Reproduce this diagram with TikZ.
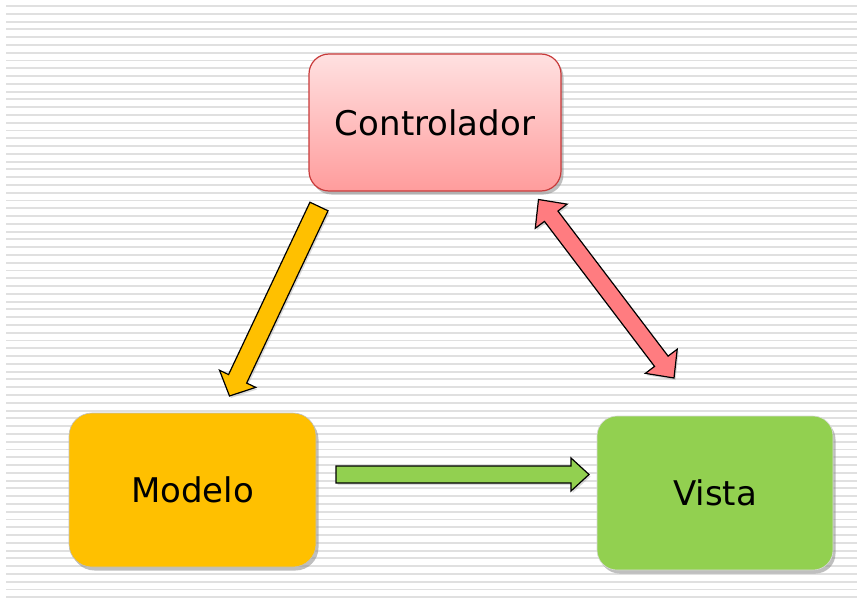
\documentclass[tikz,border=0pt]{standalone}
\usepackage{fontspec}
\setmainfont{DejaVu Sans}
\usetikzlibrary{calc,shadows}

\definecolor{stripegray}{HTML}{E0E0E0}
\definecolor{ctltop}{HTML}{FFE1E1}
\definecolor{ctlbot}{HTML}{FF9C9C}
\definecolor{ctlline}{HTML}{C83A3A}
\definecolor{modfill}{HTML}{FFC000}
\definecolor{visfill}{HTML}{92D050}
\definecolor{redarrow}{HTML}{FF7C80}

\tikzset{
  stripe/.style={draw=stripegray, line width=1.9pt},
  boxshadow/.style={drop shadow={shadow xshift=2.5pt, shadow yshift=-3.5pt, fill=black!45, opacity=.55}},
  mvcbox/.style={rounded corners=21pt, inner sep=0pt, font=\fontsize{34}{40}\selectfont, text=black, boxshadow},
  blockarrowstyle/.style={draw=black, line width=1.2pt, line join=miter,
    drop shadow={shadow xshift=1.5pt, shadow yshift=-2pt, fill=black!40, opacity=.35}},
}

% single-headed block arrow: style, tail, tip, shaft half-width, head half-width, head length
\newcommand\blockarrow[6]{%
  \coordinate (ba-h) at ($(#3)!#6!(#2)$);
  \draw[blockarrowstyle,#1]
    ($(#2)!#4!90:(#3)$) -- ($(ba-h)!#4!90:(#3)$) -- ($(ba-h)!#5!90:(#3)$) -- (#3)
    -- ($(ba-h)!#5!-90:(#3)$) -- ($(ba-h)!#4!-90:(#3)$) -- ($(#2)!#4!-90:(#3)$) -- cycle;
}
% double-headed block arrow: style, tip one, tip two, shaft half-width, head half-width, head length
\newcommand\dblockarrow[6]{%
  \coordinate (da-h1) at ($(#2)!#6!(#3)$);
  \coordinate (da-h2) at ($(#3)!#6!(#2)$);
  \draw[blockarrowstyle,#1]
    (#2) -- ($(da-h1)!#5!90:(#3)$) -- ($(da-h1)!#4!90:(#3)$) -- ($(da-h2)!#4!90:(#3)$)
    -- ($(da-h2)!#5!90:(#3)$) -- (#3) -- ($(da-h2)!#5!-90:(#3)$) -- ($(da-h2)!#4!-90:(#3)$)
    -- ($(da-h1)!#4!-90:(#3)$) -- ($(da-h1)!#5!-90:(#3)$) -- cycle;
}

\begin{document}
\begin{tikzpicture}[x=1pt, y=-1pt]
  \useasboundingbox (0,0) rectangle (857,602);
  \fill[white] (0,0) rectangle (857,602);

  % striped background
  \foreach \i in {0,...,76}
    \draw[stripe] (6,{6+7.78*\i}) -- (857,{6+7.78*\i});

  % the three boxes
  \node[mvcbox, draw=ctlline, line width=1.2pt, top color=ctltop, bottom color=ctlbot,
        minimum width=252pt, minimum height=137pt, rounded corners=20pt]
    (ctl) at (435,122.5) {Controlador};
  \node[mvcbox, fill=modfill, draw=black!25, line width=0.6pt,
        minimum width=247pt, minimum height=154pt, rounded corners=23pt]
    (mod) at (192.5,490) {Modelo};
  \node[mvcbox, fill=visfill, draw=black!15, line width=0.6pt,
        minimum width=236pt, minimum height=154pt, rounded corners=20pt]
    (vis) at (715,493) {Vista};

  % arrow end points
  \coordinate (ctl-out) at (319,206.5);
  \coordinate (mod-in)  at (229.5,396);
  \coordinate (ctl-io)  at (538.5,199.5);
  \coordinate (vis-io)  at (674,378);
  \coordinate (mod-out) at (336,474.5);
  \coordinate (vis-in)  at (589,474.5);

  % connectors
  \blockarrow{fill=modfill}{ctl-out}{mod-in}{10pt}{20pt}{19pt}
  \dblockarrow{fill=redarrow}{ctl-io}{vis-io}{8.5pt}{20pt}{21pt}
  \blockarrow{fill=visfill}{mod-out}{vis-in}{8.5pt}{16.5pt}{18pt}
\end{tikzpicture}
\end{document}
